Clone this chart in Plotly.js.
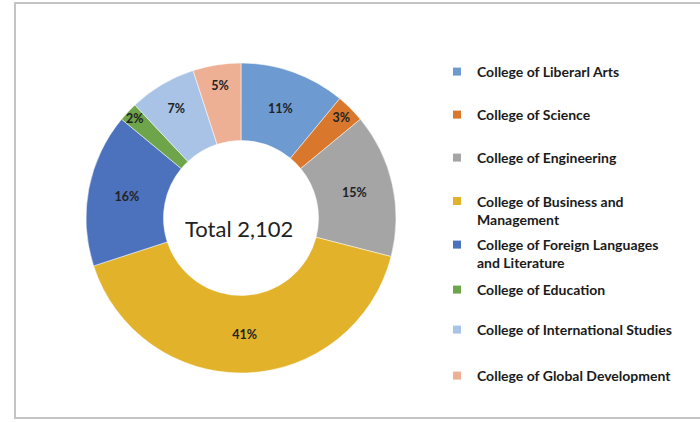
<!DOCTYPE html>
<html>
<head>
<meta charset="utf-8">
<script src="https://cdn.plot.ly/plotly-3.0.1.min.js"></script>
<style>html,body{margin:0;padding:0;background:#fff;}#chart{width:700px;height:422px;}</style>
</head>
<body>
<div id="chart"></div>
<script>
const categories = [
  "College of Liberarl Arts",
  "College of Science",
  "College of Engineering",
  "College of Business and Management",
  "College of Foreign Languages and Literature",
  "College of Education",
  "College of International Studies",
  "College of Global Development"
];
const legendLabels = [
  "College of Liberarl Arts",
  "College of Science",
  "College of Engineering",
  "College of Business and<br>Management",
  "College of Foreign Languages<br>and Literature",
  "College of Education",
  "College of International Studies",
  "College of Global Development"
];
const percentValues = [11, 3, 15, 41, 16, 2, 7, 5];
const sliceColors = ["#6d9bd1", "#d9782d", "#a5a5a5", "#e2b32a", "#4d72bd", "#6ea54a", "#a8c3e6", "#eeb095"];
const totalText = "Total 2,102";

// legend item vertical centres (px from top)
const legendY = [72, 115, 158, 210.5, 254, 290, 330, 376];

const W = 700, H = 422;
const traces = [{
  type: "pie",
  labels: categories,
  values: percentValues,
  sort: false,
  direction: "clockwise",
  rotation: 0,
  hole: 0.5,
  marker: {colors: sliceColors, line: {color: "#ffffff", width: 0.5}},
  texttemplate: "%{percent:.0%}",
  textposition: "inside",
  insidetextorientation: "horizontal",
  textfont: {family: "Lato, sans-serif", size: 12.5, color: "#222222", weight: "bold"},
  domain: {x: [86 / W, 396 / W], y: [(H - 373) / H, (H - 63) / H]},
  showlegend: false,
  hoverinfo: "label+percent"
}];

const layout = {
  width: W, height: H,
  margin: {l: 0, r: 0, t: 0, b: 0},
  paper_bgcolor: "#ffffff",
  plot_bgcolor: "rgba(0,0,0,0)",
  uniformtext: {mode: "show", minsize: 12},
  xaxis: {visible: false, range: [0, 1]},
  yaxis: {visible: false, range: [0, 1]},
  annotations: [{
    text: totalText, x: 239 / W, y: (H - 228) / H, xref: "paper", yref: "paper",
    showarrow: false, font: {family: "Lato, sans-serif", size: 22, color: "#222222"}
  }],
  shapes: [{
    type: "rect", xref: "paper", yref: "paper",
    x0: 15 / W, x1: 1.05, y0: (H - 418) / H, y1: (H - 3) / H,
    line: {color: "#c4c4c4", width: 2}, fillcolor: "rgba(0,0,0,0)", layer: "below"
  }]
};

categories.forEach((c, i) => {
  const key = i === 0 ? "legend" : "legend" + (i + 1);
  traces.push({
    type: "scatter", mode: "markers", x: [null], y: [null],
    name: legendLabels[i], legend: key, showlegend: true,
    marker: {symbol: "square", size: 8, color: sliceColors[i]},
    hoverinfo: "skip"
  });
  layout[key] = {
    x: 451 / W, y: (H - legendY[i]) / H, xanchor: "left", yanchor: "middle",
    valign: "top", bgcolor: "rgba(0,0,0,0)", borderwidth: 0, indentation: -14,
    font: {family: "Lato, sans-serif", size: 14, color: "#1a1a1a", weight: "bold"}
  };
});

Plotly.newPlot("chart", traces, layout, {staticPlot: true, displayModeBar: false});
</script>
</body>
</html>
